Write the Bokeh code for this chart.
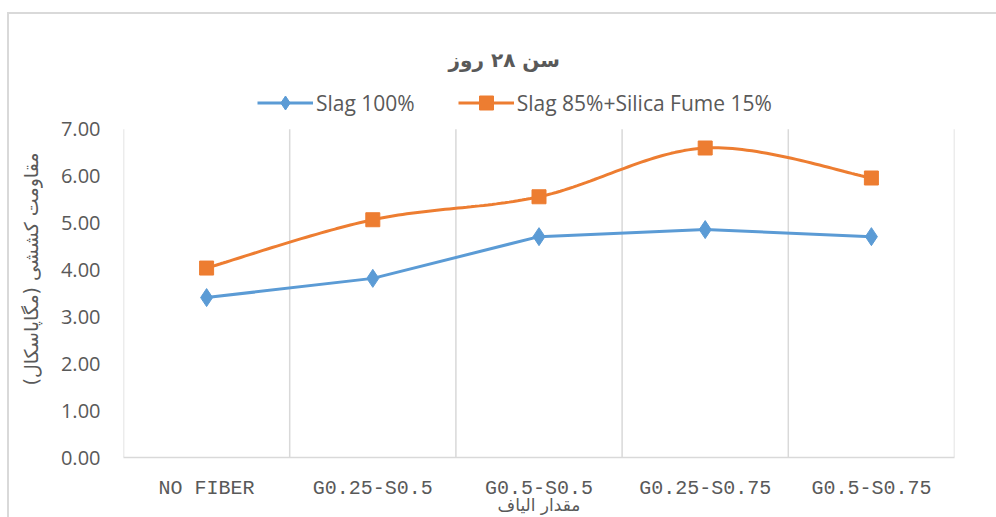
import numpy as np
from bokeh.plotting import figure
from bokeh.models import FixedTicker, NumeralTickFormatter, Legend, LegendItem, Title
from bokeh.embed import file_html
from bokeh.resources import INLINE

categories = ["NO FIBER", "G0.25-S0.5", "G0.5-S0.5", "G0.25-S0.75", "G0.5-S0.75"]
slag100 = [3.41, 3.82, 4.71, 4.86, 4.71]
slag85_sf15 = [4.04, 5.07, 5.56, 6.60, 5.96]
series_names = ["Slag 100%", "Slag 85%+Silica Fume 15%"]
y_ticks = [0, 1, 2, 3, 4, 5, 6, 7]
title_text = "سن ۲۸ روز"
y_label = "مقاومت کششی (مگاپاسکال)"
x_label = "مقدار الیاف"

BLUE = "#5B9BD5"
ORANGE = "#ED7D31"
GREY = "#595959"
GRID = "#d9d9d9"

xs = np.arange(len(categories)) + 0.5
y_max = y_ticks[-1]
y_top = y_max + 49 / 47.14  # room above the plot area for the legend


def smooth(xv, yv, n=40):
    P = np.column_stack([xv, yv]).astype(float)
    out = []
    for i in range(len(P) - 1):
        p0 = P[i - 1] if i > 0 else P[i]
        p1 = P[i]
        p2 = P[i + 1]
        p3 = P[i + 2] if i + 2 < len(P) else P[i + 1]
        c1 = p1 + (p2 - p0) / 6.0
        c2 = p2 - (p3 - p1) / 6.0
        t = np.linspace(0, 1, n)[:, None]
        seg = (1 - t) ** 3 * p1 + 3 * (1 - t) ** 2 * t * c1 + 3 * (1 - t) * t ** 2 * c2 + t ** 3 * p2
        out.append(seg if i == 0 else seg[1:])
    a = np.vstack(out)
    return a[:, 0], a[:, 1]


p = figure(width=996, height=517, x_range=(0, len(categories)), y_range=(0, y_top),
           output_backend="svg", toolbar_location=None,
           min_border_left=123, min_border_right=42, min_border_top=80, min_border_bottom=58)

p.title = Title(text=title_text, align="left", text_font="DejaVu Sans", text_font_size="20px",
                text_font_style="bold", text_color=GREY, offset=325, standoff=17)
p.outline_line_color = None
p.background_fill_color = None
p.border_fill_color = None
p.styles = {"background": "linear-gradient(#d9d9d9, #d9d9d9) 7px 12px / 2px 100% no-repeat, "
                          "linear-gradient(#d9d9d9, #d9d9d9) 7px 12px / 100% 2px no-repeat, white"}

# grids (category boundaries, only over the value range)
p.ygrid.grid_line_color = None
p.xgrid.grid_line_color = None
bounds = list(range(len(categories) + 1))
p.segment(x0=bounds, y0=[0] * len(bounds), x1=bounds, y1=[y_max] * len(bounds),
          line_color=GRID, line_width=1.5)

# x axis
p.xaxis.ticker = FixedTicker(ticks=list(xs))
p.xaxis.major_label_overrides = {float(x): c for x, c in zip(xs, categories)}
p.xaxis.axis_line_color = GRID
p.xaxis.axis_line_width = 1.5
p.xaxis.major_tick_line_color = None
p.xaxis.minor_tick_line_color = None
p.xaxis.major_label_text_font = "Liberation Mono"
p.xaxis.major_label_text_font_size = "20px"
p.xaxis.major_label_text_color = GREY
p.xaxis.major_label_standoff = 13
p.xaxis.axis_label = x_label
p.xaxis.axis_label_text_font = "DejaVu Sans"
p.xaxis.axis_label_text_font_size = "17px"
p.xaxis.axis_label_text_font_style = "normal"
p.xaxis.axis_label_text_color = GREY
p.xaxis.axis_label_standoff = -8

# y axis
p.yaxis.ticker = FixedTicker(ticks=y_ticks)
p.yaxis.formatter = NumeralTickFormatter(format="0.00")
p.yaxis.axis_line_color = None
p.yaxis.major_tick_line_color = None
p.yaxis.minor_tick_line_color = None
p.yaxis.major_label_text_font = "Open Sans"
p.yaxis.major_label_text_font_size = "20px"
p.yaxis.major_label_text_color = GREY
p.yaxis.major_label_standoff = 17
p.yaxis.axis_label = y_label
p.yaxis.axis_label_text_font = "DejaVu Sans"
p.yaxis.axis_label_text_font_size = "19px"
p.yaxis.axis_label_text_font_style = "normal"
p.yaxis.axis_label_text_color = GREY
p.yaxis.axis_label_standoff = 16

# series
l1 = p.line(xs, slag100, line_color=BLUE, line_width=3)
m1 = p.scatter(xs, slag100, marker="diamond", size=18, fill_color=BLUE, line_color=BLUE)

sx, sy = smooth(xs, slag85_sf15)
l2 = p.line(sx, sy, line_color=ORANGE, line_width=3)
m2 = p.scatter(xs, slag85_sf15, marker="square", size=14, fill_color=ORANGE, line_color=ORANGE)

legend = Legend(items=[LegendItem(label=series_names[0], renderers=[l1, m1]),
                       LegendItem(label=series_names[1], renderers=[l2, m2])],
                orientation="horizontal", location=(134, 337),
                label_text_font="Open Sans", label_text_font_size="21px", label_text_color=GREY,
                glyph_width=56, glyph_height=35, spacing=43, label_standoff=3,
                border_line_color=None, background_fill_alpha=0, margin=0, padding=5)
p.add_layout(legend, "center")

open("out.html", "w").write(file_html(p, INLINE))
